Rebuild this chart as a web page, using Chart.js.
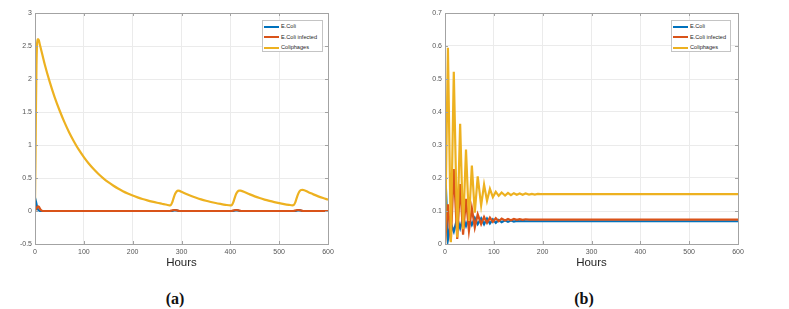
<!DOCTYPE html>
<html>
<head>
<meta charset="utf-8">
<script src="https://cdn.jsdelivr.net/npm/chart.js@4.4.1/dist/chart.umd.min.js"></script>
<style>
  body { margin: 0; background: #fff; width: 789px; height: 309px; position: relative; overflow: hidden; font-family: "Liberation Sans", Arial, sans-serif; }
  .plot { position: absolute; top: 0; }
  .legend { position: absolute; top: 20px; height: 32px; border: 1px solid #c4c4c4; background: #fff; box-sizing: border-box; }
  .legend .row { position: absolute; left: 1px; height: 8px; line-height: 8px; font-size: 5.6px; color: #262626; white-space: nowrap; }
  .legend .swatch { display: inline-block; width: 15px; height: 2px; vertical-align: middle; margin-right: 2px; }
  .caption { position: absolute; top: 289px; width: 40px; text-align: center; font-family: "Liberation Serif", "DejaVu Serif", serif; font-weight: bold; font-size: 16px; line-height: 20px; color: #111; }
</style>
</head>
<body>
<canvas id="chartA" class="plot" style="left:0px"></canvas>
<canvas id="chartB" class="plot" style="left:410px"></canvas>
<div id="legendA" class="legend" style="left:262px;width:61px"></div>
<div id="legendB" class="legend" style="left:671px;width:60px"></div>
<div class="caption" style="left:155px">(a)</div>
<div class="caption" style="left:564px">(b)</div>
<script>
// series
const seriesNames = ['E.Coli', 'E.Coli infected', 'Coliphages'];
const seriesColors = ['#0072BD', '#D95319', '#EDB120'];

// ticks
const xTicks = [0, 100, 200, 300, 400, 500, 600];
const yTicksA = [-0.5, 0, 0.5, 1, 1.5, 2, 2.5, 3];
const yTicksB = [0, 0.1, 0.2, 0.3, 0.4, 0.5, 0.6, 0.7];

// (a)
const hoursEcoliA = [0, 2, 4, 6, 8, 10, 12, 280, 285, 290, 295, 405, 410, 415, 420, 533, 538, 543, 548, 600];
const ecoliA = [0.2, 0.14, 0.07, 0.025, 0.008, 0.002, 0, 0, 0.008, 0.008, 0, 0, 0.008, 0.008, 0, 0, 0.008, 0.008, 0, 0];
const hoursInfectedA = [0, 3, 6, 8, 10, 13, 16, 276, 281, 286, 291, 296, 402, 407, 412, 417, 422, 529, 534, 539, 544, 549, 600];
const infectedA = [0, 0.04, 0.07, 0.065, 0.035, 0.008, 0, 0, 0.01, 0.015, 0.01, 0, 0, 0.01, 0.015, 0.01, 0, 0, 0.01, 0.015, 0.01, 0, 0];
const hoursPhageA = [0, 1, 2, 3, 4, 5, 7, 10, 20, 30, 40, 50, 60, 70, 80, 90, 100, 110, 120, 130, 140, 150, 160, 170, 180, 190, 200,
  210, 220, 230, 240, 250, 260, 270, 275, 278, 281, 284, 287, 290, 293, 296, 300, 310, 320, 330, 340, 350, 360, 370, 380, 390, 400,
  403, 406, 409, 412, 415, 418, 421, 430, 440, 450, 460, 470, 480, 490, 500, 510, 520, 527, 530, 533, 536, 539, 542, 545, 548, 560, 570, 580, 590, 600];
const phageA = [0.15, 0.8, 1.6, 2.2, 2.5, 2.6, 2.6, 2.52, 2.22, 1.96, 1.73, 1.53, 1.35, 1.19, 1.05, 0.925, 0.817, 0.72, 0.636, 0.561, 0.495, 0.437, 0.386, 0.34, 0.3, 0.265, 0.234,
  0.207, 0.182, 0.161, 0.142, 0.125, 0.11, 0.095, 0.085, 0.09, 0.13, 0.2, 0.26, 0.295, 0.31, 0.305, 0.29, 0.256, 0.226, 0.2, 0.176, 0.155, 0.137, 0.121, 0.107, 0.094, 0.084,
  0.09, 0.13, 0.2, 0.26, 0.295, 0.31, 0.308, 0.285, 0.252, 0.222, 0.196, 0.173, 0.153, 0.135, 0.119, 0.105, 0.093, 0.086, 0.092, 0.13, 0.2, 0.26, 0.3, 0.318, 0.32, 0.285, 0.252, 0.222, 0.196, 0.172];

// (b)
const hoursB = [0, 6, 12, 18, 25, 31, 37, 43, 49, 55, 61, 67, 74, 80, 86, 92, 98, 104, 110, 116, 123, 129, 135, 141, 147, 153, 159, 165, 172, 178, 184, 190, 196, 250, 600];
const ecoliB = [0.24, 0.013, 0.062, 0.038, 0.078, 0.048, 0.08, 0.055, 0.08, 0.058, 0.079, 0.06, 0.078, 0.06, 0.077, 0.062, 0.075, 0.064, 0.073, 0.066, 0.072, 0.067, 0.071, 0.068, 0.07, 0.069, 0.07, 0.069, 0.069, 0.069, 0.069, 0.069, 0.069, 0.069, 0.069];
const infectedB = [0, 0.12, 0.008, 0.227, 0.015, 0.182, 0.028, 0.137, 0.04, 0.108, 0.05, 0.09, 0.06, 0.082, 0.064, 0.08, 0.067, 0.078, 0.069, 0.077, 0.071, 0.076, 0.072, 0.076, 0.073, 0.075, 0.073, 0.075, 0.074, 0.074, 0.074, 0.074, 0.074, 0.074, 0.074];
const phageB = [0, 0.595, 0.005, 0.522, 0.02, 0.364, 0.045, 0.286, 0.07, 0.238, 0.095, 0.205, 0.117, 0.18, 0.131, 0.167, 0.142, 0.158, 0.146, 0.156, 0.147, 0.155, 0.148, 0.154, 0.149, 0.153, 0.149, 0.153, 0.15, 0.152, 0.15, 0.152, 0.151, 0.151, 0.151];

const toPoints = (xs, ys) => xs.map((x, i) => ({ x: x, y: ys[i] }));

// matlab style box with inward ticks
const framePlugin = {
  id: 'frame',
  afterDatasetsDraw(chart) {
    const a = chart.chartArea;
    const ctx = chart.ctx;
    const line = (x1, y1, x2, y2) => { ctx.beginPath(); ctx.moveTo(x1, y1); ctx.lineTo(x2, y2); ctx.stroke(); };
    ctx.save();
    ctx.strokeStyle = '#a3a3a3';
    ctx.lineWidth = 1;
    ctx.strokeRect(Math.round(a.left) + 0.5, Math.round(a.top) + 0.5, Math.round(a.right - a.left), Math.round(a.bottom - a.top));
    chart.scales.x.ticks.forEach(t => {
      const px = Math.round(chart.scales.x.getPixelForValue(t.value)) + 0.5;
      line(px, a.bottom, px, a.bottom - 3);
      line(px, a.top, px, a.top + 3);
    });
    chart.scales.y.ticks.forEach(t => {
      const py = Math.round(chart.scales.y.getPixelForValue(t.value)) + 0.5;
      line(a.left, py, a.left + 3, py);
      line(a.right, py, a.right - 3, py);
    });
    ctx.restore();
  }
};

function makeChart(id, datasets, yTicks, smooth) {
  const canvas = document.getElementById(id);
  canvas.width = 344;
  canvas.height = 276;
  return new Chart(canvas.getContext('2d'), {
    type: 'line',
    data: {
      datasets: datasets.map((pts, i) => ({
        label: seriesNames[i],
        data: pts,
        borderColor: seriesColors[i],
        backgroundColor: seriesColors[i],
        borderWidth: 2.2,
        pointRadius: 0,
        fill: false,
        tension: 0,
        cubicInterpolationMode: smooth ? 'monotone' : 'default',
        order: 3 - i
      }))
    },
    options: {
      responsive: false,
      animation: false,
      layout: { padding: { top: 13, right: 16, left: 0, bottom: 0 } },
      plugins: { legend: { display: false }, tooltip: { enabled: false } },
      scales: {
        x: {
          type: 'linear',
          min: 0,
          max: 600,
          afterBuildTicks: s => { s.ticks = xTicks.map(v => ({ value: v })); },
          afterFit: s => { s.height = 32; },
          grid: { color: '#ebebeb', drawTicks: false },
          border: { display: false },
          ticks: { padding: 4, maxRotation: 0, autoSkip: false, color: '#555', font: { family: 'Liberation Sans', size: 7 }, callback: v => String(v) },
          title: { display: true, text: 'Hours', color: '#262626', padding: { top: 0, bottom: 6 }, font: { family: 'Liberation Sans', size: 11.5 } }
        },
        y: {
          min: yTicks[0],
          max: yTicks[yTicks.length - 1],
          afterBuildTicks: s => { s.ticks = yTicks.map(v => ({ value: v })); },
          afterFit: s => { s.width = 35; },
          grid: { color: '#ebebeb', drawTicks: false },
          border: { display: false },
          ticks: { padding: 3, color: '#555', font: { family: 'Liberation Sans', size: 7 }, callback: v => String(v) }
        }
      }
    },
    plugins: [framePlugin]
  });
}

function makeLegend(id) {
  const box = document.getElementById(id);
  seriesNames.forEach((name, i) => {
    const row = document.createElement('div');
    row.className = 'row';
    row.style.top = (1 + i * 10.5) + 'px';
    row.innerHTML = '<span class="swatch" style="background:' + seriesColors[i] + '"></span>' + name;
    box.appendChild(row);
  });
}

makeChart('chartA', [toPoints(hoursEcoliA, ecoliA), toPoints(hoursInfectedA, infectedA), toPoints(hoursPhageA, phageA)], yTicksA, true);
makeChart('chartB', [toPoints(hoursB, ecoliB), toPoints(hoursB, infectedB), toPoints(hoursB, phageB)], yTicksB, false);
makeLegend('legendA');
makeLegend('legendB');
</script>
</body>
</html>
